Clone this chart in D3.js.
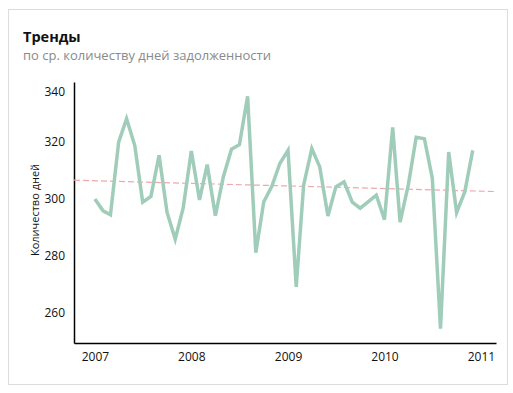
<!DOCTYPE html>
<html>
<head>
<meta charset="utf-8">
<script src="https://cdn.jsdelivr.net/npm/d3@7"></script>
<style>
  body { margin: 0; background: #fff; font-family: "Open Sans", "Noto Sans", sans-serif; }
</style>
</head>
<body>
<div id="grafico"></div>
<script>
// Средние дни задолженности по месяцам, январь 2007 - декабрь 2010
const anios = [2007, 2008, 2009, 2010];
const valores2007 = [299.7, 295.6, 294.2, 319.7, 327.9, 318.5, 298.6, 300.6, 315.1, 295.1, 285.6, 296.5];
const valores2008 = [316.6, 299.4, 311.8, 293.9, 307.5, 317.2, 318.8, 335.8, 280.9, 298.7, 304.3, 312.2];
const valores2009 = [316.8, 268.9, 304.6, 317.4, 311.0, 293.8, 304.0, 305.8, 298.6, 296.5, 298.8, 301.1];
const valores2010 = [292.5, 324.9, 291.6, 304.6, 321.4, 320.9, 307.0, 254.2, 316.2, 295.0, 302.3, 316.8];
const ticksY = [260, 280, 300, 320, 340];

const serie = [valores2007, valores2008, valores2009, valores2010].flatMap((vals, i) =>
    vals.map((v, m) => ({ fecha: new Date(anios[i], m, 1), valor: v })));

const ancho = 513;
const alto = 393;
const margen = { top: 82, right: 17, bottom: 50, left: 74 };

const svg = d3.select("#grafico")
    .append("svg")
    .attr("width", ancho)
    .attr("height", alto);

// Рамка карточки
svg.append("rect")
    .attr("x", 8.5)
    .attr("y", 9.5)
    .attr("width", 499)
    .attr("height", 375)
    .attr("fill", "#fff")
    .attr("stroke", "#dcdcdc");

svg.append("text")
    .attr("x", 23)
    .attr("y", 42)
    .style("font-size", "14.5px")
    .style("font-weight", "bold")
    .attr("fill", "#111")
    .text("Тренды");

svg.append("text")
    .attr("x", 23)
    .attr("y", 60)
    .style("font-size", "13px")
    .attr("fill", "#8a8a8a")
    .text("по ср. количеству дней задолженности");

const escalaX = d3.scaleTime()
    .domain([new Date(2006, 9, 14), new Date(2011, 1, 27)])
    .range([margen.left, ancho - margen.right]);

const extension = d3.extent(serie, d => d.valor);
const escalaY = d3.scaleLinear()
    .domain([extension[0] - 5, extension[1] + 5])
    .range([alto - margen.bottom, margen.top]);

// Ejes sin marcas
const ejeX = svg.append("g")
    .attr("transform", `translate(0,${alto - margen.bottom})`)
    .call(d3.axisBottom(escalaX).ticks(d3.timeYear.every(1)).tickFormat(d3.timeFormat("%Y")).tickSize(0).tickPadding(9));
ejeX.select(".domain").attr("stroke", "#000").attr("stroke-width", 1.5);
ejeX.selectAll("text").style("font-size", "12px").style("font-family", "'Open Sans', sans-serif").attr("fill", "#111");

const ejeY = svg.append("g")
    .attr("transform", `translate(${margen.left},0)`)
    .call(d3.axisLeft(escalaY).tickValues(ticksY).tickSize(0).tickPadding(9));
ejeY.select(".domain").attr("stroke", "#000").attr("stroke-width", 1.5);
ejeY.selectAll("text").style("font-size", "12px").style("font-family", "'Open Sans', sans-serif").attr("fill", "#111");
// la etiqueta superior se baja un poco para no pegarse al borde
ejeY.selectAll(".tick")
    .filter(d => escalaY(d) < margen.top + 6)
    .select("text")
    .attr("dy", "0.9em");

svg.append("text")
    .attr("transform", `translate(39,210) rotate(-90)`)
    .attr("text-anchor", "middle")
    .style("font-size", "11px")
    .attr("fill", "#111")
    .text("Количество дней");

// Línea de tendencia (regresión lineal)
const t0 = serie[0].fecha.getTime();
const xs = serie.map(d => (d.fecha.getTime() - t0) / 864e5);
const ys = serie.map(d => d.valor);
const mx = d3.mean(xs), my = d3.mean(ys);
const pendiente = d3.sum(xs, (x, i) => (x - mx) * (ys[i] - my)) / d3.sum(xs, x => (x - mx) ** 2);
const tendencia = escalaX.domain().map(f => ({
    fecha: f,
    valor: my + pendiente * ((f.getTime() - t0) / 864e5 - mx)
}));

const generadorLinea = d3.line()
    .x(d => escalaX(d.fecha))
    .y(d => escalaY(d.valor));

svg.append("path")
    .datum(tendencia)
    .attr("fill", "none")
    .attr("stroke", "#f0a8ad")
    .attr("stroke-width", 1.2)
    .attr("stroke-dasharray", "6,3")
    .attr("d", generadorLinea);

svg.append("path")
    .datum(serie)
    .attr("fill", "none")
    .attr("stroke", "#9fcdb9")
    .attr("stroke-width", 3.5)
    .attr("stroke-linejoin", "miter")
    .attr("d", generadorLinea);
</script>
</body>
</html>
